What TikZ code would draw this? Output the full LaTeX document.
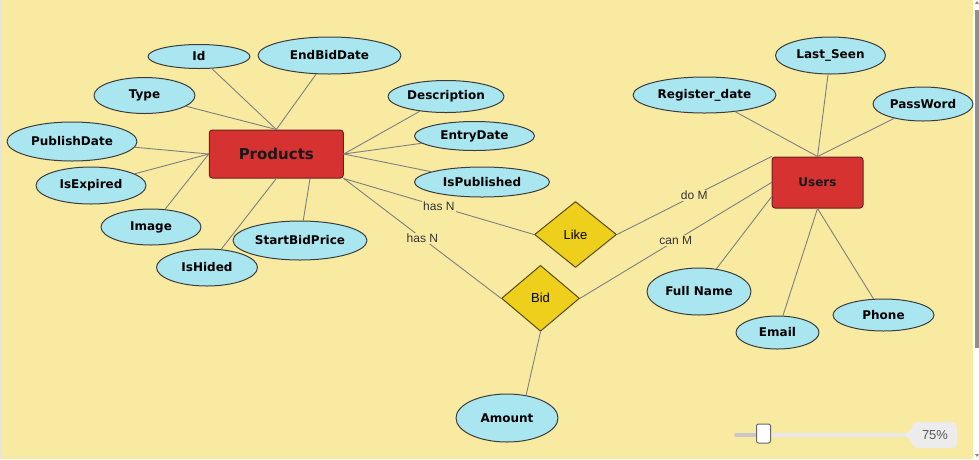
\documentclass[tikz,border=0pt]{standalone}
\usepackage{fontspec}
\setsansfont{DejaVu Sans}
\newfontfamily\lblfont{Liberation Sans}
\usetikzlibrary{shapes.geometric,calc}
\definecolor{bgyel}{HTML}{F8EBA1}
\definecolor{attrcol}{HTML}{A9E6F0}
\definecolor{attrline}{HTML}{3C3C3C}
\definecolor{entcol}{HTML}{D63232}
\definecolor{entline}{HTML}{6B2020}
\definecolor{relcol}{HTML}{EECF1B}
\definecolor{relline}{HTML}{5A4A10}
\definecolor{conncol}{HTML}{7F7F7F}
\definecolor{cardtext}{HTML}{333333}
\definecolor{trackL}{HTML}{C8C8C8}
\definecolor{trackR}{HTML}{E8E8E8}
\definecolor{zoombox}{HTML}{ECECEC}
\definecolor{scrollgray}{HTML}{8E8E8E}
\begin{document}
\begin{tikzpicture}[x=1pt,y=-1pt,line join=round,line cap=round,
	attr/.style={ellipse,draw=attrline,fill=attrcol,line width=1pt,inner sep=0pt,font=\sffamily\bfseries\fontsize{12}{14}\selectfont},
	ent/.style={rectangle,rounded corners=3pt,draw=entline,fill=entcol,line width=1pt,inner sep=0pt,text=black!90},
	rel/.style={diamond,draw=relline,fill=relcol,line width=1pt,inner sep=0pt,font=\lblfont\fontsize{13}{15}\selectfont},
	conn/.style={draw=conncol,line width=0.9pt},
	card/.style={fill=bgyel,inner sep=1pt,text=cardtext,font=\lblfont\fontsize{12}{14}\selectfont}]
	\useasboundingbox (0,0) rectangle (979,459);
	\fill[bgyel] (2,0) rectangle (973,459);
	\fill[black!10] (0,0) rectangle (2,459);
	\fill[white] (973,0) rectangle (979,459);
	\fill[scrollgray] (975,10) rectangle (979,348);
	\fill[scrollgray] (975,4)--(979,4)--(977,1)--cycle;
	\fill[scrollgray] (975,454)--(979,454)--(977,457)--cycle;
	
	\node[ent,minimum width=134pt,minimum height=48pt,font=\sffamily\bfseries\fontsize{15}{18}\selectfont] (Products) at (276.3,154) {Products};
	\node[ent,minimum width=91pt,minimum height=51pt,font=\sffamily\bfseries\fontsize{12}{14}\selectfont] (Users) at (817.5,182.5) {Users};
	\node[rel,minimum width=82pt,minimum height=66pt] (Like) at (575.5,234.5) {Like};
	\node[rel,minimum width=78pt,minimum height=66pt] (Bid) at (540.5,298.3) {Bid};
	
	\foreach \n/\x/\y/\w/\h/\t in {Id/199/56.5/102pt/24pt/Id, EndBidDate/329.5/55.5/143pt/37pt/EndBidDate,
		Type/144.5/95.5/101pt/36pt/Type, Description/446/96.5/116pt/32pt/Description,
		EntryDate/474.5/136/120pt/29pt/EntryDate, PublishDate/72/141.5/130pt/39pt/PublishDate,
		IsExpired/91/185.5/110pt/37pt/IsExpired, IsPublished/482/182/135pt/30pt/IsPublished,
		Image/151/227/100pt/36pt/Image, StartBidPrice/300/240.5/134pt/39pt/StartBidPrice,
		IsHided/207/267.5/101pt/37pt/IsHided, Amount/507/418/102pt/48pt/Amount,
		RegDate/704.5/95/143pt/36pt/Register\_date, LastSeen/830.5/55.5/110pt/37pt/Last\_Seen,
		PassWord/923/104/100pt/34pt/PassWord, FullName/699/291.5/104pt/47pt/Full Name,
		Email/777.5/332.5/83pt/33pt/Email, Phone/883.5/315/101pt/32pt/Phone}
		\node[attr,minimum width=\w,minimum height=\h] (\n) at (\x,\y) {\t};
	
	\coordinate (pB) at ($(Products.south)!0.5!(Products.south east)$);
	\coordinate (uL) at ($(Users.west)!0.55!(Users.south west)$);
	\foreach \a/\b in {Id/Products.north, EndBidDate/Products.north, Type/Products.north,
		Description/Products.east, EntryDate/Products.east, IsPublished/Products.east,
		PublishDate/Products.west, IsExpired/Products.west, Image/Products.west,
		IsHided/Products.south, StartBidPrice/pB,
		RegDate/Users.north, LastSeen/Users.north, PassWord/Users.north,
		FullName/uL, Email/Users.south, Phone/Users.south}
		\draw[conn] (\a) -- (\b);
	\draw[conn] (Bid.south) -- (Amount.50);
	
	\draw[conn] (Products.south east) -- node[card]{has N} (Like.west);
	\draw[conn] (Products.south east) -- node[card]{has N} (Bid.west);
	\draw[conn] (Like.east) -- node[card]{do M} (Users.north west);
	\draw[conn] (Bid.east) -- node[card]{can M} (Users.west);
	
	\draw[trackR,line width=4pt] (736,435) -- (907,435);
	\draw[trackL,line width=4pt] (736,435) -- (763,435);
	\node[draw=black!60,fill=white,rounded corners=2pt,line width=1pt,minimum width=14pt,minimum height=19pt,inner sep=0pt] (knob) at (763.5,433.5) {};
	\fill[zoombox,rounded corners=5pt] (912,422) rectangle (957,448);
	\fill[zoombox] (905,435)--(913,427)--(913,443)--cycle;
	\node[text=black!65,font=\lblfont\fontsize{13}{15}\selectfont] (zoomlbl) at (935,435) {75\%};
\end{tikzpicture}
\end{document}
